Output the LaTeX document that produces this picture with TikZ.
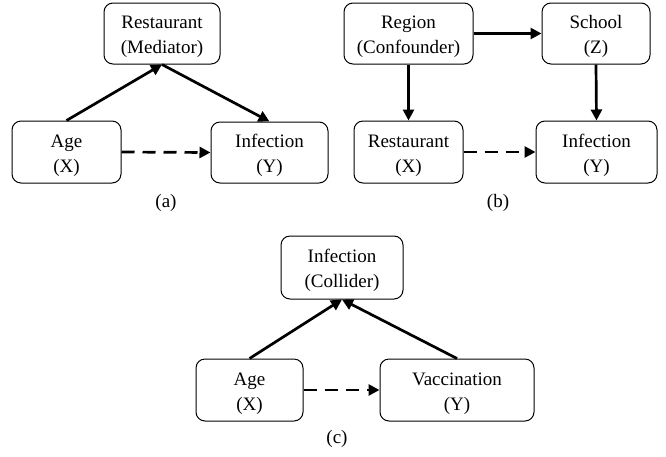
\documentclass[tikz,border=0pt]{standalone}
\usepackage{fontspec}
\setmainfont{Liberation Serif}
\usetikzlibrary{arrows.meta}
\newcommand\firstline{\rule{0pt}{20pt}}
\begin{document}
\begin{tikzpicture}[x=1pt,y=-1pt,
  box/.style={draw,line width=1pt,rounded corners=9pt,align=center,inner sep=0pt,
    font=\fontsize{19}{25}\selectfont},
  sublabel/.style={font=\fontsize{19}{24}\selectfont},
  arr/.style={line width=2.7pt,-{Triangle[length=11pt,width=11pt]}},
  darr/.style={arr,dash pattern=on 13pt off 8pt}]
\useasboundingbox (0,0) rectangle (666,456);
% (a)
\node[box,minimum width=116pt,minimum height=61pt] (med) at (162,33.5) {\firstline Restaurant\\(Mediator)};
\node[box,minimum width=109pt,minimum height=62pt] (agea) at (66.5,152) {\firstline Age\\(X)};
\node[box,minimum width=117pt,minimum height=61pt] (infa) at (269.5,152.5) {\firstline Infection\\(Y)};
\draw[arr] (agea.north) -- (med.south);
\draw[arr] (med.south) -- (infa.north);
\draw[darr] (agea.east) -- (infa.west);
\node[sublabel] (capa) at (166,203) {(a)};
% (b)
\node[box,minimum width=129pt,minimum height=61pt] (reg) at (408.5,33.5) {\firstline Region\\(Confounder)};
\node[box,minimum width=108pt,minimum height=61pt] (sch) at (596,33.5) {\firstline School\\(Z)};
\node[box,minimum width=109pt,minimum height=62pt] (resb) at (408.5,152) {\firstline Restaurant\\(X)};
\node[box,minimum width=121pt,minimum height=62pt] (infb) at (596.5,152) {\firstline Infection\\(Y)};
\draw[arr] (reg.east) -- (sch.west);
\draw[arr] (reg.south) -- (resb.north);
\draw[arr] (sch.south) -- (infb.north);
\draw[darr] (resb.east) -- (infb.west);
\node[sublabel] (capb) at (498,203) {(b)};
% (c)
\node[box,minimum width=122pt,minimum height=63pt] (col) at (342,267.5) {\firstline Infection\\(Collider)};
\node[box,minimum width=107pt,minimum height=62pt] (agec) at (249.5,390) {\firstline Age\\(X)};
\node[box,minimum width=154pt,minimum height=62pt] (vac) at (457,390) {\firstline Vaccination\\(Y)};
\draw[arr] (agec.north) -- (col.south);
\draw[arr] (vac.north) -- (col.south);
\draw[darr] (agec.east) -- (vac.west);
\node[sublabel] (capc) at (337,439) {(c)};
\end{tikzpicture}
\end{document}
